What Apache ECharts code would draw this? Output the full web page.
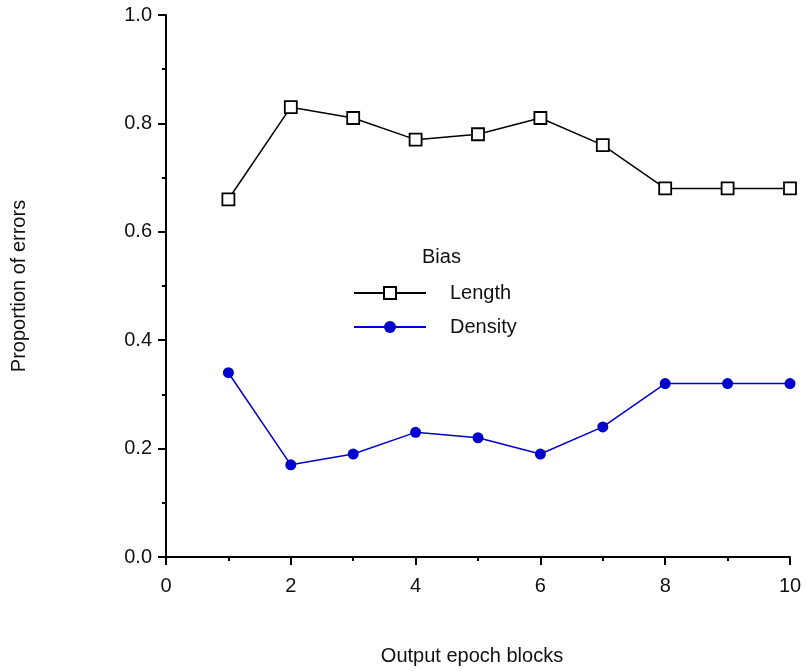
<!DOCTYPE html>
<html>
<head>
<meta charset="utf-8">
<script src="https://cdn.jsdelivr.net/npm/echarts@6/dist/echarts.min.js"></script>
<style>html,body{margin:0;padding:0;background:#fff}#c{width:806px;height:671px}</style>
</head>
<body>
<div id="c"></div>
<script>
const xBlocks = [1, 2, 3, 4, 5, 6, 7, 8, 9, 10];
const lengthVals = [0.66, 0.83, 0.81, 0.77, 0.78, 0.81, 0.76, 0.68, 0.68, 0.68];
const densityVals = [0.34, 0.17, 0.19, 0.23, 0.22, 0.19, 0.24, 0.32, 0.32, 0.32];
const legendTitle = 'Bias';
const seriesNames = ['Length', 'Density'];
const xTitle = 'Output epoch blocks';
const yTitle = 'Proportion of errors';

const font = 'Liberation Sans, Arial, sans-serif';
const fs = 20;
const chart = echarts.init(document.getElementById('c'), null, {renderer: 'canvas'});
const pairs = (xs, ys) => xs.map((x, i) => [x, ys[i]]);
const axisCommon = {
  axisLine: {show: true, lineStyle: {color: '#000', width: 2}},
  axisTick: {show: true, inside: false, length: 8, lineStyle: {color: '#000', width: 2}},
  minorTick: {show: true, splitNumber: 2, length: 4, lineStyle: {color: '#000', width: 2}},
  splitLine: {show: false},
  axisLabel: {color: '#111', fontFamily: font, fontSize: fs},
  nameTextStyle: {color: '#111', fontFamily: font, fontSize: fs}
};
chart.setOption({
  animation: false,
  backgroundColor: '#fff',
  grid: {left: 166, right: 16, top: 15, bottom: 112, containLabel: false},
  title: {text: legendTitle, left: 422, top: 247, padding: 0, textStyle: {fontFamily: font, fontSize: fs, fontWeight: 'normal', color: '#111'}},
  legend: {
    orient: 'vertical', left: 353, top: 283, itemGap: 14, padding: 0,
    itemWidth: 72, itemHeight: 15,
    data: seriesNames,
    textStyle: {fontFamily: font, fontSize: fs, color: '#111', padding: [0, 0, 0, 19]}
  },
  xAxis: Object.assign({}, axisCommon, {
    type: 'value', min: 0, max: 10, interval: 2,
    name: xTitle, nameLocation: 'middle', nameGap: 89,
    nameTextStyle: Object.assign({}, axisCommon.nameTextStyle, {padding: [0, 12, 0, 0]}),
    axisLabel: Object.assign({}, axisCommon.axisLabel, {margin: 19})
  }),
  yAxis: Object.assign({}, axisCommon, {
    type: 'value', min: 0, max: 1, interval: 0.2,
    name: yTitle, nameLocation: 'middle', nameGap: 137,
    axisLabel: Object.assign({}, axisCommon.axisLabel, {margin: 14, formatter: v => v.toFixed(1)})
  }),
  series: [
    {
      name: seriesNames[0], type: 'line', data: pairs(xBlocks, lengthVals),
      symbol: 'rect', symbolSize: 12, showAllSymbol: true,
      lineStyle: {color: '#000', width: 1.5},
      itemStyle: {color: '#fff', borderColor: '#000', borderWidth: 1.8},
      z: 3
    },
    {
      name: seriesNames[1], type: 'line', data: pairs(xBlocks, densityVals),
      symbol: 'circle', symbolSize: 11, showAllSymbol: true,
      lineStyle: {color: '#0000cc', width: 1.5},
      itemStyle: {color: '#0000cc', borderColor: '#0000cc', borderWidth: 0},
      z: 3
    }
  ]
});
</script>
</body>
</html>
